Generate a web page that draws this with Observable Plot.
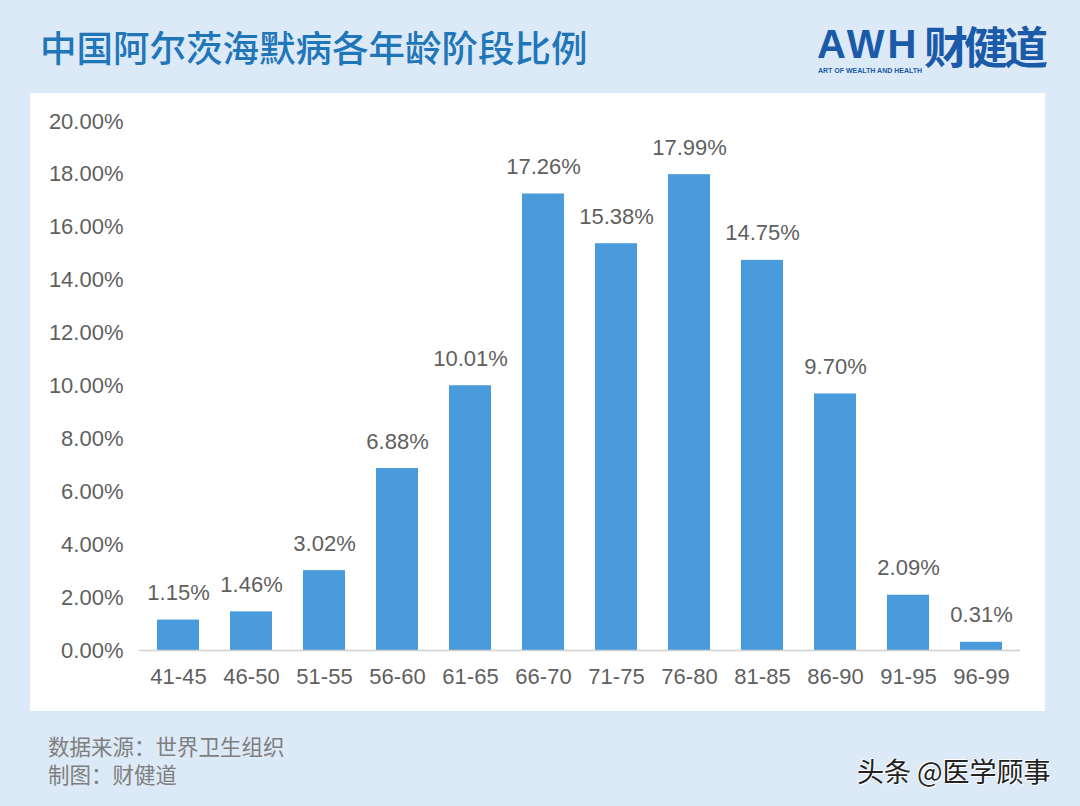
<!DOCTYPE html>
<html>
<head>
<meta charset="utf-8">
<script src="https://cdn.jsdelivr.net/npm/d3@7"></script>
<script src="https://cdn.jsdelivr.net/npm/@observablehq/plot@0.6"></script>
<style>
  html, body { margin: 0; padding: 0; }
  body { width: 1080px; height: 806px; background: #dce9f6; position: relative; overflow: hidden;
         font-family: "Liberation Sans", "Noto Sans CJK SC", sans-serif; }
  #title { position: absolute; left: 40px; top: 23px; font-family: "Noto Sans CJK SC", sans-serif;
           font-size: 36.5px; font-weight: 500; color: #1f76b8; line-height: 48px; white-space: nowrap; }
  #logo { position: absolute; left: 816px; top: 14px; width: 236px; height: 64px; }
  #logo .awh { position: absolute; left: 1px; top: 11px; font-family: "Liberation Sans", sans-serif; font-weight: 700;
               font-size: 40px; color: #1a5aa8; line-height: 38px; letter-spacing: 3px; white-space: nowrap; }
  #logo .cn { position: absolute; left: 108px; top: 4px; font-family: "Noto Sans CJK SC", sans-serif; font-weight: 700;
              font-size: 44px; color: #1a5aa8; line-height: 54px; letter-spacing: -4px; white-space: nowrap; }
  #logo .sub { position: absolute; left: 2px; top: 53px; font-family: "Liberation Sans Narrow", "Liberation Sans", sans-serif; font-weight: 700;
               font-size: 7px; line-height: 8px; color: #1a5aa8; white-space: nowrap; }
  #panel { position: absolute; left: 30px; top: 93px; width: 1015px; height: 618px; background: #ffffff; }
  #source { position: absolute; left: 48px; top: 732px; font-family: "Noto Sans CJK SC", sans-serif;
            font-size: 21.5px; color: #7f7f7f; line-height: 28px; white-space: nowrap; }
  #mark { position: absolute; left: 857px; top: 751px; font-family: "Noto Sans CJK SC", sans-serif;
          font-size: 27px; color: #222; white-space: nowrap; text-shadow: 1px 1px 0 #fff, -1px -1px 0 #fff; }
</style>
</head>
<body>
<div id="title">中国阿尔茨海默病各年龄阶段比例</div>
<div id="logo">
  <div class="awh">AWH</div>
  <div class="cn">财健道</div>
  <div class="sub">ART OF WEALTH AND HEALTH</div>
</div>
<div id="panel"></div>
<div id="source">数据来源：世界卫生组织<br>制图：财健道</div>
<div id="mark">头条 @医学顾事</div>
<script>
const ageGroups = ["41-45","46-50","51-55","56-60","61-65","66-70","71-75","76-80","81-85","86-90","91-95","96-99"];
const shares = [1.15, 1.46, 3.02, 6.88, 10.01, 17.26, 15.38, 17.99, 14.75, 9.70, 2.09, 0.31];
const yTicks = [0, 2, 4, 6, 8, 10, 12, 14, 16, 18, 20];

const data = ageGroups.map((g, i) => ({group: g, value: shares[i]}));
const fmt = d => d.toFixed(2) + "%";

const chart = Plot.plot({
  width: 1015,
  height: 618,
  marginLeft: 109,
  marginRight: 25,
  marginTop: 28,
  marginBottom: 61,
  style: {background: "transparent", fontFamily: "'Liberation Sans', sans-serif", fontSize: "22px", color: "#5f5f5f"},
  x: {domain: ageGroups, paddingInner: 0.43, paddingOuter: 0.215, label: null},
  y: {domain: [0, 20], ticks: yTicks, label: null},
  marks: [
    Plot.axisY({ticks: yTicks, tickFormat: fmt, tickSize: 0, tickPadding: 16, fontSize: 22, label: null, fill: "#5f5f5f"}),
    Plot.axisX({tickSize: 0, tickPadding: 18, fontSize: 22, label: null, fill: "#5f5f5f"}),
    Plot.barY(data, {x: "group", y: "value", fill: "#4a9bdb"}),
    Plot.ruleY([0], {stroke: "#d0d0d0", strokeWidth: 1.5}),
    Plot.text(data, {x: "group", y: "value", text: d => fmt(d.value), dy: -27, fontSize: 22, fill: "#5f5f5f"})
  ]
});
document.getElementById("panel").appendChild(chart);
</script>
</body>
</html>
